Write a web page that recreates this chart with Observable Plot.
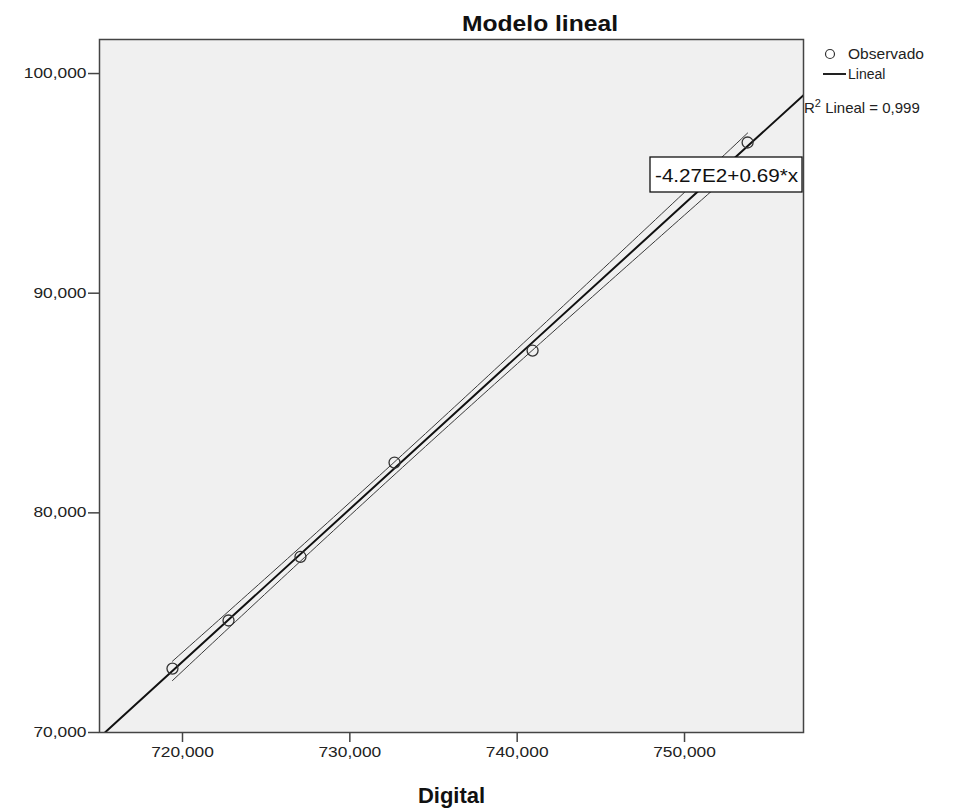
<!DOCTYPE html>
<html>
<head>
<meta charset="utf-8">
<script src="https://cdn.jsdelivr.net/npm/d3@7"></script>
<script src="https://cdn.jsdelivr.net/npm/@observablehq/plot@0.6"></script>
<style>
  html, body { margin: 0; padding: 0; background: #fff; }
  #chart svg { display: block; font-family: Arial, "Liberation Sans", sans-serif; }
</style>
</head>
<body>
<div id="chart"></div>
<script>
// Observed values (Spanish locale: "720,000" = 720.000)
const digital   = [719.40, 722.75, 727.05, 732.67, 740.92, 753.77];
const observado = [72.91, 75.10, 78.00, 82.29, 87.39, 96.86];
const xTicks = [720, 730, 740, 750];
const yTicks = [70, 80, 90, 100];
const xDomain = [715.04, 757.11];
const yDomain = [70, 101.55];
const chartTitle = "Modelo lineal";
const xLabel = "Digital";
const legendLabels = ["Observado", "Lineal"];
const r2Label = " Lineal = 0,999";
const equationLabel = "-4.27E2+0.69*x";

const fmt = d => d3.format(",.3f")(d).replace(".", ",");

const pts = digital.map((x, i) => ({x, y: observado[i]}));

// least-squares fit and 95% confidence band of the mean
const n = pts.length;
const mx = d3.mean(digital), my = d3.mean(observado);
const sxx = d3.sum(digital, x => (x - mx) ** 2);
const sxy = d3.sum(pts, p => (p.x - mx) * (p.y - my));
const slope = sxy / sxx, intercept = my - slope * mx;
const sres = Math.sqrt(d3.sum(pts, p => (p.y - (intercept + slope * p.x)) ** 2) / (n - 2));
const tcrit = 2.776; // t(0.975, df = 4)
const [xmin, xmax] = d3.extent(digital);
const bandX = d3.range(0, 101).map(i => xmin + (xmax - xmin) * i / 100);
const band = bandX.map(x => {
  const h = tcrit * sres * Math.sqrt(1 / n + (x - mx) ** 2 / sxx);
  const yh = intercept + slope * x;
  return {x, lo: yh - h, hi: yh + h};
});
const fitLine = xDomain.map(x => ({x, y: intercept + slope * x}));

const W = 959, H = 812;
const plot = Plot.plot({
  width: W, height: H,
  marginLeft: 99, marginRight: 156, marginTop: 39, marginBottom: 80,
  x: {domain: xDomain},
  y: {domain: yDomain},
  style: {fontFamily: "Arial, 'Liberation Sans', sans-serif", fontSize: "14px", color: "#222"},
  marks: [
    Plot.frame({fill: "#f0f0f0", stroke: "none"}),
    Plot.line(band, {x: "x", y: "hi", stroke: "#3a3a3a", strokeWidth: 1}),
    Plot.line(band, {x: "x", y: "lo", stroke: "#3a3a3a", strokeWidth: 1}),
    Plot.line(fitLine, {x: "x", y: "y", stroke: "#111", strokeWidth: 2, clip: true}),
    Plot.dot(pts, {x: "x", y: "y", r: 5.5, stroke: "#333", strokeWidth: 1.3, fill: "none"}),
    Plot.frame({stroke: "#444", strokeWidth: 1.5}),
    Plot.axisX({ticks: xTicks, tickSize: 10, tickPadding: 5, tickFormat: fmt,
      label: xLabel, labelAnchor: "center", labelArrow: "none", labelOffset: 70,
      stroke: "#444", strokeWidth: 1.5}),
    Plot.axisY({ticks: yTicks, tickSize: 11, tickPadding: 2, tickFormat: fmt,
      label: null, stroke: "#444", strokeWidth: 1.5})
  ]
});
document.getElementById("chart").append(plot);

const svg = d3.select(plot);
const xs = plot.scale("x");
const frameRight = xs.range[1];

// widen tick labels to the reference's spacing
svg.selectAll("[aria-label='x-axis tick label'] text, [aria-label='y-axis tick label'] text")
  .each(function() {
    const len = this.getComputedTextLength();
    d3.select(this).attr("textLength", len * 1.24).attr("lengthAdjust", "spacingAndGlyphs");
  });

// style x axis label
svg.selectAll("[aria-label='x-axis label'] text")
  .attr("font-size", 22).attr("font-weight", "bold").attr("fill", "#111");

// title
const t = svg.append("text").text(chartTitle)
  .attr("x", 540).attr("y", 31)
  .attr("text-anchor", "middle").attr("font-size", 22).attr("font-weight", "bold").attr("fill", "#111");
t.attr("textLength", t.node().getComputedTextLength() * 1.12).attr("lengthAdjust", "spacingAndGlyphs");

// legend
const lg = svg.append("g").attr("font-size", 14).attr("fill", "#222").attr("text-anchor", "start");
lg.append("circle").attr("cx", frameRight + 27).attr("cy", 54).attr("r", 4.5)
  .attr("fill", "none").attr("stroke", "#333").attr("stroke-width", 1.2);
lg.append("text").text(legendLabels[0]).attr("x", frameRight + 45).attr("y", 59)
  .attr("textLength", 76).attr("lengthAdjust", "spacingAndGlyphs");
lg.append("line").attr("x1", frameRight + 20).attr("x2", frameRight + 43).attr("y1", 74).attr("y2", 74)
  .attr("stroke", "#222").attr("stroke-width", 2);
lg.append("text").text(legendLabels[1]).attr("x", frameRight + 45).attr("y", 79);
const r2 = lg.append("text").attr("x", frameRight + 1).attr("y", 113).attr("font-size", 15);
r2.append("tspan").text("R");
r2.append("tspan").text("2").attr("font-size", 11).attr("dy", -6);
r2.append("tspan").text(r2Label).attr("dy", 6);

// equation box
const eg = svg.append("g").attr("text-anchor", "start");
eg.append("rect").attr("x", frameRight - 153).attr("y", 157).attr("width", 152).attr("height", 35)
  .attr("fill", "#fff").attr("stroke", "#111").attr("stroke-width", 1.3);
eg.append("text").text(equationLabel).attr("x", frameRight - 148).attr("y", 182)
  .attr("font-size", 18).attr("fill", "#111")
  .attr("textLength", 143).attr("lengthAdjust", "spacingAndGlyphs");
</script>
</body>
</html>
